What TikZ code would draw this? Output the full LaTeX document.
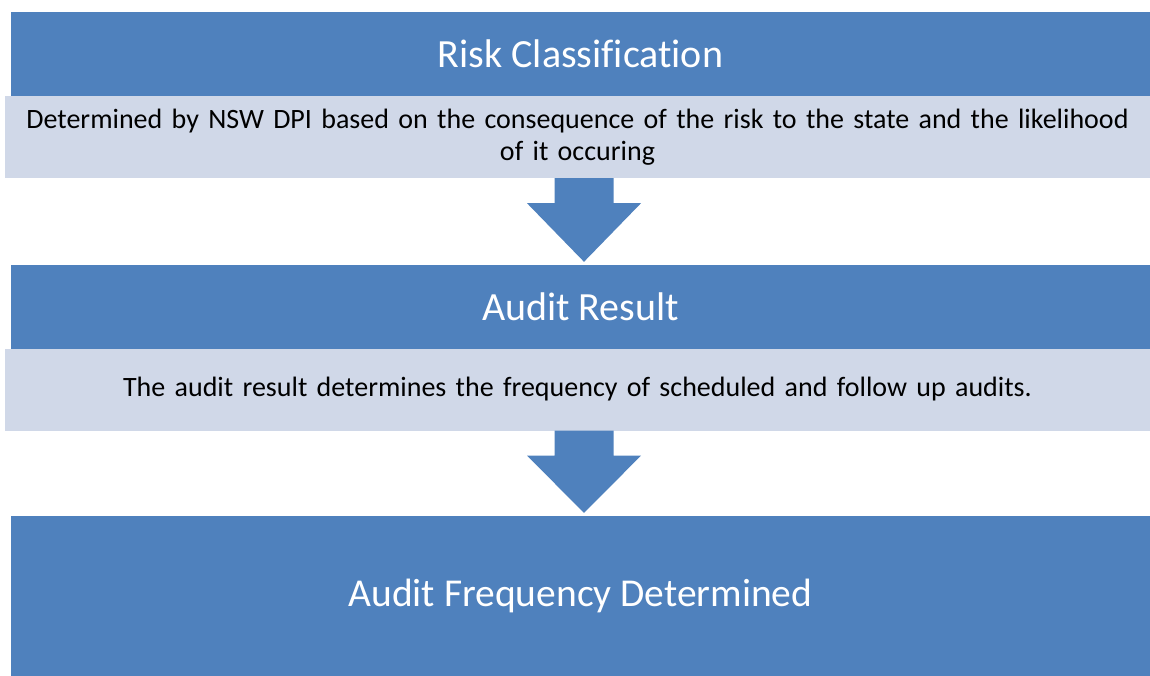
\documentclass[tikz,border=0pt]{standalone}
\usepackage{fontspec}
\setmainfont{Carlito}[Ligatures=NoCommon]
\usetikzlibrary{calc}
\definecolor{barblue}{HTML}{4F81BD}
\definecolor{paleblue}{HTML}{D0D8E8}
\tikzset{
  headbar/.style={rectangle,fill=barblue,text=white,inner sep=0pt,minimum width=1139pt,minimum height=84pt,font=\fontsize{40}{48}\selectfont},
  notebox/.style={rectangle,fill=paleblue,text=black,inner sep=0pt,minimum width=1145pt,minimum height=82pt,text width=1130pt,align=center,font=\fontsize{28}{32}\selectfont},
}
\begin{document}
\begin{tikzpicture}[x=1pt,y=-1pt]
			\useasboundingbox (0,0) rectangle (1150,675);
			\node[headbar] (risk) at (580.5,54) {Risk Classification};
			\node[notebox] (riskdesc) at (577.5,137) {Determined by NSW DPI based on the consequence of the risk to the state and the likelihood\\of it occuring};
			\node[headbar] (result) at (580.5,307) {Audit Result};
			\node[notebox] (resultdesc) at (577.5,389.5) {The audit result determines the frequency of scheduled and follow up audits.};
			\node[headbar,minimum height=160pt,font=\fontsize{39.5}{47}\selectfont] (frequency) at (580.5,596) {Audit Frequency Determined};
			% block arrows between the stages
			\foreach \from/\to in {riskdesc/result,resultdesc/frequency}
				\fill[barblue] ($(\from.south)+(-23,0)$) -- ++(59,0) -- ++(0,25) -- ++(27.5,0)
					-- ($(\to.north)+(3.5,-3)$) -- ($(\from.south)+(-50.5,25)$) -- ++(27.5,0) -- cycle;
		\end{tikzpicture}
\end{document}
